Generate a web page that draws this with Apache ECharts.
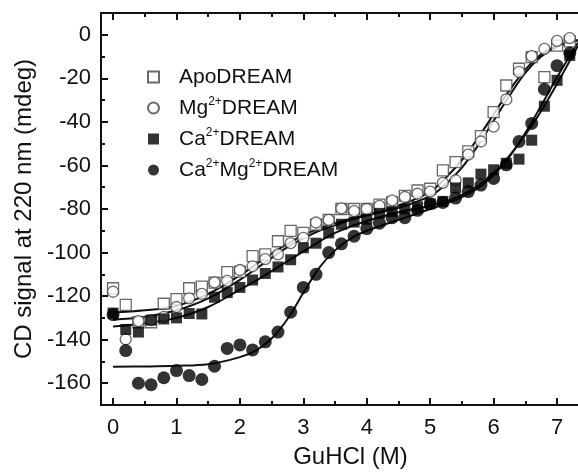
<!DOCTYPE html>
<html>
<head>
<meta charset="utf-8">
<script src="https://cdn.jsdelivr.net/npm/echarts@6/dist/echarts.min.js"></script>
<style>
  html, body { margin: 0; padding: 0; background: #fff; }
  #chart-container { width: 578px; height: 474px; }
</style>
</head>
<body>
<div id="chart-container"></div>
<script>
// measured GuHCl concentrations (M)
let guhcl = [0, 0.2, 0.4, 0.6, 0.8, 1.0, 1.2, 1.4, 1.6, 1.8, 2.0, 2.2, 2.4, 2.6, 2.8, 3.0, 3.2, 3.4, 3.6,
    3.8, 4.0, 4.2, 4.4, 4.6, 4.8, 5.0, 5.2, 5.4, 5.6, 5.8, 6.0, 6.2, 6.4, 6.6, 6.8, 7.0, 7.2];

// CD signal at 220 nm (mdeg)
let apoData = [-116.4, -124, -132, -132, -123.5, -121.4, -116.4, -115.6, -113.8, -109, -108.8, -101.6, -100.8, -94.8, -90, -91, -87.2, -85, -80,
    -80, -80, -78, -77, -74, -71.5, -70.7, -62.3, -58.5, -53.5, -46.5, -35.5, -23.3, -15.6, -10.3, -19.4, -5, -3];
let mgData = [-118, -139.8, -131.5, -131, -129.5, -125, -121, -119, -113.7, -113, -108, -106.3, -103, -100.8, -95.7, -93.3, -86.2, -85, -79.7,
    -81, -80, -78.6, -76, -74.5, -73, -72, -68, -66.8, -55, -49, -42.2, -29.7, -17, -9.8, -6.5, -2.8, -1.5];
let caData = [-127.8, -135.3, -136.5, -131, -130.5, -130, -128, -128.2, -120.5, -118.4, -116, -112.6, -109.6, -106.6, -103.3, -97.8, -95.7, -91, -87,
    -86, -84.7, -82, -81.2, -80, -79, -77.6, -76.5, -70.3, -68, -64, -62, -59, -57.1, -48.4, -32.8, -20.9, -9.5];
let caMgData = [-128.5, -145, -160, -160.7, -157.5, -154.2, -156.5, -158.3, -152.2, -144, -142.4, -144.7, -141, -136.5, -127.4, -116, -110, -100, -96,
    -92.5, -89, -86.5, -84, -84, -80.6, -77.6, -77, -75, -72, -69, -66, -59.7, -49, -40.7, -25, -14.2, -8.4];

// fitted curves
let fitX = [0, 0.5, 1, 1.5, 2, 2.25, 2.5, 2.75, 3, 3.25, 3.5, 3.75, 4, 4.5, 5, 5.25, 5.5, 5.75, 6, 6.25, 6.5, 6.75, 7, 7.33];
let apoFit = [-127.5, -126.5, -124.5, -119, -110.5, -105.5, -100.5, -96, -92, -89, -86.5, -84.5, -82.5, -78.5, -72, -65.5, -57.5, -47.5, -36.5, -25.5, -16, -9, -5, -2.5];
let mgFit = [-130.8, -129.5, -126.5, -121, -112.5, -107.5, -102.5, -97.5, -93.5, -90, -87.5, -85, -83, -79.5, -74, -68.5, -61, -51, -39.5, -28, -17.5, -10, -5.5, -2.5];
let caFit = [-134, -132.5, -130, -125, -117, -113, -108.5, -104, -99.5, -95, -91, -88, -85.5, -81.5, -78.5, -76.5, -73.5, -69.5, -63.5, -55.5, -46, -35, -22.5, -5];
let caMgFit = [-152.4, -152.3, -152, -151.3, -148, -145, -139.5, -130.5, -118.5, -107, -99, -93.5, -90, -85, -80, -77.5, -74.5, -70.5, -64.5, -56, -45, -32.5, -19.5, -3.5];

let xMajor = [0, 1, 2, 3, 4, 5, 6, 7];
let xMinor = [0.5, 1.5, 2.5, 3.5, 4.5, 5.5, 6.5];
let yMajor = [-160, -140, -120, -100, -80, -60, -40, -20, 0];
let yMinor = [-150, -130, -110, -90, -70, -50, -30, -10];

let seriesNames = ["ApoDREAM", "Mg2+DREAM", "Ca2+DREAM", "Ca2+Mg2+DREAM"];
let legendText = {
    "ApoDREAM": "ApoDREAM",
    "Mg2+DREAM": "Mg{sup|2+}DREAM",
    "Ca2+DREAM": "Ca{sup|2+}DREAM",
    "Ca2+Mg2+DREAM": "Ca{sup|2+}Mg{sup|2+}DREAM",
};

function pairs(xs, ys) {
    return xs.map(function (x, i) { return [x, ys[i]]; });
}

let dom = document.getElementById("chart-container");
let myChart = echarts.init(dom, null, { renderer: "canvas" });

let font = "Liberation Sans, Arial, sans-serif";
let axisLine = { show: true, onZero: false, lineStyle: { color: "#111", width: 2 } };

function xAx(pos, ticks, len, showLabel, name) {
    return {
        type: "value", position: pos, min: -0.19, max: 7.33,
        name: name || "", nameLocation: "middle", nameGap: 40,
        nameTextStyle: { fontFamily: font, fontSize: 24, color: "#111", padding: [0, 0, 0, 22] },
        axisLine: axisLine,
        axisTick: { show: true, inside: true, length: len, customValues: ticks, lineStyle: { color: "#111", width: 2 } },
        axisLabel: { show: showLabel, customValues: ticks, margin: 12, fontFamily: font, fontSize: 22, color: "#111" },
        splitLine: { show: false },
    };
}

function yAx(ticks, len, showLabel, name) {
    return {
        type: "value", position: "left", min: -170, max: 10,
        name: name || "", nameLocation: "middle", nameGap: 63,
        nameTextStyle: { fontFamily: font, fontSize: 24, color: "#111" },
        axisLine: axisLine,
        axisTick: { show: true, inside: true, length: len, customValues: ticks, lineStyle: { color: "#111", width: 2 } },
        axisLabel: { show: showLabel, customValues: ticks, margin: 10, fontFamily: font, fontSize: 22, color: "#111" },
        splitLine: { show: false },
    };
}

let option = {
    backgroundColor: "#fff",
    animation: false,
    grid: { left: 101, right: 0, top: 13, bottom: 64 },
    legend: {
        data: seriesNames,
        orient: "vertical",
        left: 142,
        top: 60,
        itemWidth: 11,
        itemHeight: 11,
        itemGap: 7,
        formatter: function (name) { return legendText[name]; },
        textStyle: {
            fontFamily: font, fontSize: 21, color: "#111", lineHeight: 24, padding: [0, 0, 0, 15],
            rich: { sup: { fontSize: 12, verticalAlign: "top", lineHeight: 13, color: "#111" } },
        },
    },
    xAxis: [
        xAx("bottom", xMajor, 7, true, "GuHCl (M)"),
        xAx("bottom", xMinor, 4, false),
        xAx("top", xMajor, 7, false),
        xAx("top", xMinor, 4, false),
    ],
    yAxis: [
        yAx(yMajor, 7, true, "CD signal at 220 nm (mdeg)"),
        yAx(yMinor, 4, false),
    ],
    series: [
        { name: "ApoFit", type: "line", data: pairs(fitX, apoFit), smooth: 0.4, symbol: "none", lineStyle: { color: "#111", width: 2 }, z: 1 },
        { name: "MgFit", type: "line", data: pairs(fitX, mgFit), smooth: 0.4, symbol: "none", lineStyle: { color: "#111", width: 2 }, z: 1 },
        { name: "CaFit", type: "line", data: pairs(fitX, caFit), smooth: 0.4, symbol: "none", lineStyle: { color: "#111", width: 2 }, z: 1 },
        { name: "CaMgFit", type: "line", data: pairs(fitX, caMgFit), smooth: 0.4, symbol: "none", lineStyle: { color: "#111", width: 2 }, z: 1 },
        {
            name: "ApoDREAM", type: "scatter", data: pairs(guhcl, apoData), symbol: "rect", symbolSize: 11,
            itemStyle: { color: "#fff", borderColor: "#444", borderWidth: 1.3 }, z: 3,
        },
        {
            name: "Mg2+DREAM", type: "scatter", data: pairs(guhcl, mgData), symbol: "circle", symbolSize: 11,
            itemStyle: { color: "#fff", borderColor: "#444", borderWidth: 1.3 }, z: 3,
        },
        {
            name: "Ca2+DREAM", type: "scatter", data: pairs(guhcl, caData), symbol: "rect", symbolSize: 11,
            itemStyle: { color: "#000" }, z: 4,
        },
        {
            name: "Ca2+Mg2+DREAM", type: "scatter", data: pairs(guhcl, caMgData), symbol: "circle", symbolSize: 13,
            itemStyle: { color: "#000" }, z: 4,
        },
    ],
};

if (option && typeof option === "object") {
    myChart.setOption(option);
}

window.addEventListener("resize", myChart.resize);
</script>
</body>
</html>
